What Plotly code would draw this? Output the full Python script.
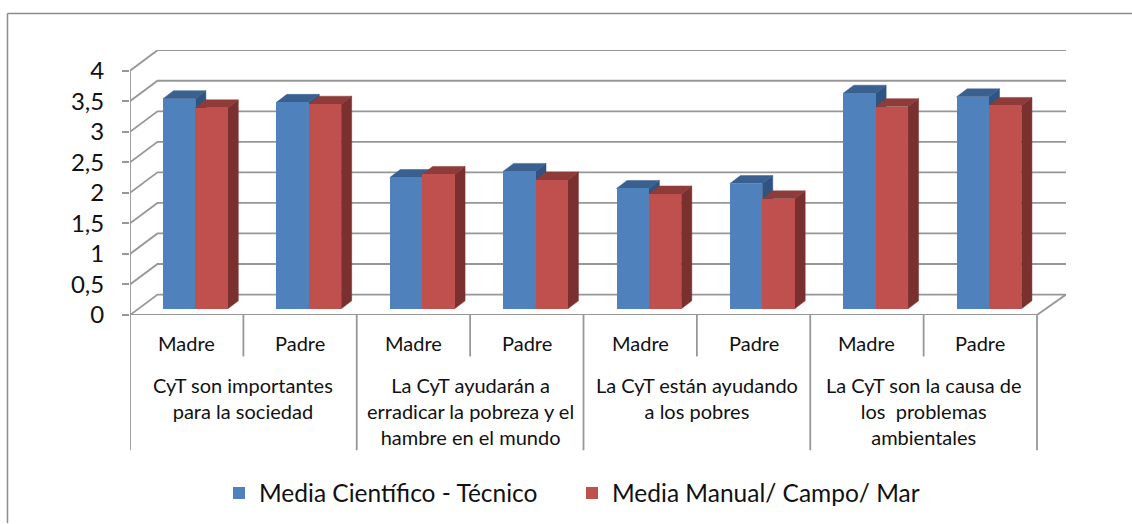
import plotly.graph_objects as go

CATS_L1 = ["Madre", "Padre"] * 4
CATS_L2 = [
    "CyT son importantes<br>para la sociedad",
    "La CyT ayudarán a<br>erradicar la pobreza y el<br>hambre en el mundo",
    "La CyT están ayudando<br>a los pobres",
    "La CyT son la causa de<br>los  problemas<br>ambientales",
]
BLUE_NAME = "Media Científico - Técnico"
RED_NAME = "Media Manual/ Campo/ Mar"
BLUE = [3.44, 3.38, 2.15, 2.25, 1.97, 2.05, 3.53, 3.47]
RED = [3.29, 3.35, 2.20, 2.11, 1.88, 1.80, 3.31, 3.33]
TICKS = [0, 0.5, 1, 1.5, 2, 2.5, 3, 3.5, 4]

W, H = 1132, 524
X0, X1 = 130.0, 1066.0
Y0, Y1 = 315.5, 50.0
PX_CAT = 113.375
PX_VAL = 61.2
xmax = (X1 - X0) / PX_CAT
ymax = (Y0 - Y1) / PX_VAL

# oblique projection
WALL_DX, WALL_DY = 27.5 / PX_CAT, 20.5 / PX_VAL
BAR_DX, BAR_DY = 10.5 / PX_CAT, 8.0 / PX_VAL
BAR_W = 32.4 / PX_CAT
BAR_OFF = 33.0 / PX_CAT
BASE = 6.2 / PX_VAL

GRID = "#979797"
fig = go.Figure()


def line(xs, ys, width=1.8):
    fig.add_trace(go.Scatter(x=xs, y=ys, mode="lines", showlegend=False, hoverinfo="skip",
                             line=dict(color=GRID, width=width)))


def poly(xs, ys, color):
    fig.add_trace(go.Scatter(x=xs, y=ys, mode="lines", fill="toself", fillcolor=color,
                             showlegend=False, hoverinfo="skip", line=dict(color=color, width=0.5)))


n = len(CATS_L1)
# walls
for t in TICKS:
    line([0, WALL_DX, xmax], [t, t + WALL_DY, t + WALL_DY])
line([n, xmax], [0, WALL_DY])

# side and top faces
for series, off, top_c, side_c in ((BLUE, 0, "#3A6090", "#2F5481"), (RED, BAR_W, "#8F3B39", "#7A302E")):
    for i, v in enumerate(series):
        x_l = i + BAR_OFF + off
        x_r = x_l + BAR_W
        y_t = BASE + v
        poly([x_r, x_r + BAR_DX, x_r + BAR_DX, x_r, x_r],
             [BASE, BASE + BAR_DY, y_t + BAR_DY, y_t, BASE], side_c)
        poly([x_l, x_l + BAR_DX, x_r + BAR_DX, x_r, x_l],
             [y_t, y_t + BAR_DY, y_t + BAR_DY, y_t, y_t], top_c)

# front faces
for series, off, name, color in ((BLUE, 0, BLUE_NAME, "#4F81BD"), (RED, BAR_W, RED_NAME, "#C0504D")):
    fig.add_trace(go.Bar(x=[i + BAR_OFF + off + BAR_W / 2 for i in range(n)], y=series,
                         base=[BASE] * n, width=BAR_W, name=name, marker=dict(color=color, line=dict(width=0)),
                         xaxis="x2", yaxis="y2"))

# multi-level category axis
shapes = []
y_paper = lambda py: (Y0 - py) / (Y0 - Y1)
x_paper = lambda px: (px - X0) / (X1 - X0)
for i in range(n + 1):
    bottom = 451 if i % 2 == 0 else 357
    shapes.append(dict(type="line", xref="x", yref="paper", x0=i, x1=i, y0=y_paper(Y0), y1=y_paper(bottom),
                       line=dict(color=GRID, width=1.8)))
# frame: only the top and left edges are visible
FRAME = dict(color="#8c8c8c", width=1.5)
shapes.append(dict(type="line", xref="paper", yref="paper", x0=x_paper(7.5), x1=x_paper(W),
                   y0=y_paper(13.5), y1=y_paper(13.5), line=FRAME))
shapes.append(dict(type="line", xref="paper", yref="paper", x0=x_paper(7.5), x1=x_paper(7.5),
                   y0=y_paper(13.5), y1=y_paper(H), line=FRAME))

annotations = []
for i, c in enumerate(CATS_L1):
    annotations.append(dict(xref="x", yref="paper", x=i + 0.5, y=y_paper(343.5), text=c, showarrow=False,
                            font=dict(family="Lato", size=20, color="#111"), yanchor="middle"))
for j, c in enumerate(CATS_L2):
    annotations.append(dict(xref="x", yref="paper", x=2 * j + 1, y=y_paper(372), text=c, showarrow=False,
                            font=dict(family="Lato", size=20, color="#111"), yanchor="top", align="center"))

axis_common = dict(showgrid=False, zeroline=False)
fig.update_layout(
    width=W, height=H, autosize=False,
    margin=dict(l=X0, r=W - X1, t=Y1, b=H - Y0, pad=0),
    paper_bgcolor="white", plot_bgcolor="rgba(0,0,0,0)",
    separators=", ", barmode="overlay", bargap=0,
    font=dict(family="Lato", color="#111"),
    xaxis=dict(range=[0, xmax], showticklabels=False, ticks="", showline=False, **axis_common),
    yaxis=dict(range=[0, ymax], tickvals=TICKS, ticktext=[f"{t:g}".replace(".", ",") for t in TICKS],
               ticks="outside", ticklen=7, tickcolor=GRID, tickwidth=1.8, ticklabelstandoff=13,
               tickfont=dict(family="Lato", size=24, color="#111"), showline=False, **axis_common),
    xaxis2=dict(range=[0, xmax], overlaying="x", visible=False, **axis_common),
    yaxis2=dict(range=[0, ymax], overlaying="y", visible=False, **axis_common),
    legend=dict(orientation="h", xref="container", yref="container", x=219 / W, y=1 - 493 / H,
                xanchor="left", yanchor="middle",
                font=dict(family="Lato", size=24.5, color="#111"), entrywidth=308, entrywidthmode="pixels",
                bgcolor="rgba(0,0,0,0)", itemclick=False, itemdoubleclick=False),
    shapes=shapes, annotations=annotations,
)
# front axis lines, drawn from the value and category scales
line([0, 0], [0, 4])
line([0, n], [0, 0])
fig.write_html("out.html", config={"displayModeBar": False},
               post_script="document.body.style.margin='0';window.dispatchEvent(new Event('resize'));")
